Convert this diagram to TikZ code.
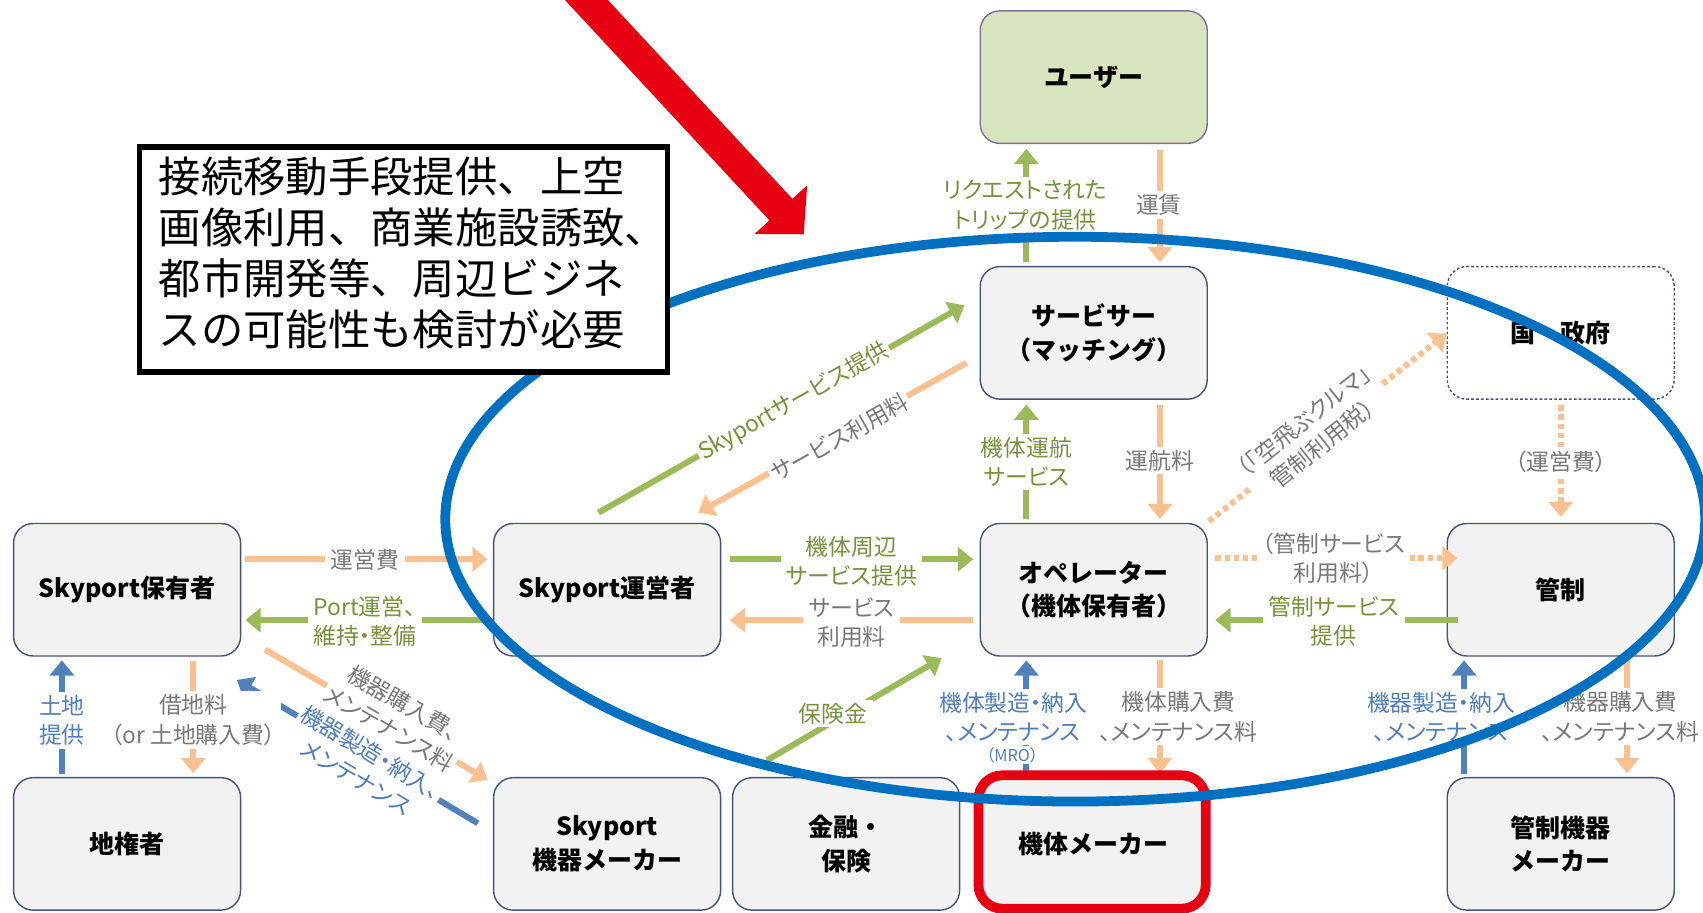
\documentclass[tikz,border=0pt]{standalone}
\usepackage{fontspec}
\setmainfont{Noto Sans CJK JP}
\newfontfamily\jpl{Noto Sans CJK JP}[RawFeature=+palt]
\usetikzlibrary{arrows.meta,calc}
\definecolor{boxc}{RGB}{68,84,120}
\definecolor{boxf}{RGB}{242,242,242}
\definecolor{userf}{RGB}{215,228,189}
\definecolor{userc}{RGB}{128,110,150}
\definecolor{morange}{RGB}{250,192,144}
\definecolor{mgreen}{RGB}{155,187,89}
\definecolor{mblue}{RGB}{79,129,189}
\definecolor{tgray}{RGB}{120,120,120}
\definecolor{tgreen}{RGB}{118,146,60}
\definecolor{tblue}{RGB}{79,125,189}
\definecolor{eblue}{RGB}{0,112,192}
\definecolor{mred}{RGB}{230,0,18}
\newcommand\myNF{\fontsize{23}{31}\selectfont\bfseries}
\newcommand\myLF{\jpl\fontsize{21}{27}\selectfont}
\newcommand\mySF{\jpl\fontsize{15}{17}\selectfont}
\newcommand\myCF{\fontsize{39}{47}\selectfont}
\tikzset{
 box/.style={draw=boxc, fill=boxf, line width=1.3pt, rounded corners=18pt, minimum width=209pt, minimum height=122pt, inner sep=0pt, align=center, font=\myNF, text=black},
 lbl/.style={fill=white, inner xsep=5pt, inner ysep=3pt, align=center, font=\myLF},
 lgray/.style={lbl, text=tgray},
 lgreen/.style={lbl, text=tgreen},
 lblue/.style={lbl, text=tblue},
 conn/.style={line width=5.5pt, -{Triangle[length=14pt,width=22pt]}},
 oarr/.style={conn, draw=morange},
 garr/.style={conn, draw=mgreen},
 barr/.style={conn, draw=mblue},
 odot/.style={oarr, dash pattern=on 5pt off 3.5pt},
 callout/.style={draw=black, fill=white, line width=5pt, minimum width=486pt, minimum height=207pt},
 callouttext/.style={inner sep=0pt, align=left, font=\myCF, text=black, anchor=west},
}
\begin{document}
\begin{tikzpicture}[x=1pt,y=-1pt]
\useasboundingbox (0,0) rectangle (1568,840);
\clip (0,0) rectangle (1568,840);
% boxes
\node[box, fill=userf, draw=userc] (user) at (1007,71) {ユーザー};
\node[box] (svc) at (1007,306.5) {サービサー\\（マッチング）};
\node[box, fill=white, dash pattern=on 2.5pt off 2pt] (gov) at (1437,306.5) {国・政府};
\node[box] (owner) at (117,543) {Skyport保有者};
\node[box] (ops) at (559,543) {Skyport運営者};
\node[box] (opr) at (1007,543) {オペレーター\\（機体保有者）};
\node[box] (ctl) at (1437,543) {管制};
\node[box] (land) at (117,777) {地権者};
\node[box] (eqm) at (559,777) {Skyport\\機器メーカー};
\node[box] (fin) at (779,777) {金融・\\保険};
\node[box] (amk) at (1007,777) {機体メーカー};
\node[box] (cem) at (1437,777) {管制機器\\メーカー};
% connectors
\draw[garr] ($(svc.center)+(-62,-65)$) -- ($(user.center)+(-62,66)$);
\draw[oarr] ($(user.center)+(61,67)$) -- ($(svc.center)+(61,-65)$);
\draw[garr] ($(opr.center)+(-62,-65)$) -- ($(svc.center)+(-62,66)$);
\draw[oarr] ($(svc.center)+(61,66)$) -- ($(opr.center)+(61,-65)$);
\draw[garr] ($(ops.center)+(-8,-71)$) -- ($(svc.center)+(-119,-25.5)$);
\draw[oarr] ($(svc.center)+(-117,27.5)$) -- ($(ops.center)+(84,-71)$);
\draw[oarr] ($(owner.center)+(109,-28)$) -- ($(ops.center)+(-110,-28)$);
\draw[garr] ($(ops.center)+(-112,28)$) -- ($(owner.center)+(109,28)$);
\draw[garr] ($(ops.center)+(113,-28)$) -- ($(opr.center)+(-111,-28)$);
\draw[oarr] ($(opr.center)+(-111,28)$) -- ($(ops.center)+(113,28)$);
\draw[odot] ($(opr.center)+(112,-29)$) -- ($(ctl.center)+(-95,-29)$);
\draw[garr] ($(ctl.center)+(-95,28)$) -- ($(opr.center)+(112,28)$);
\draw[odot] ($(opr.center)+(106,-63)$) -- ($(gov.center)+(-105,0.5)$);
\draw[odot] ($(gov.center)+(0,66.5)$) -- ($(ctl.center)+(0,-67)$);
\draw[barr] ($(land.center)+(-60,-64)$) -- ($(owner.center)+(-60,65)$);
\draw[oarr] ($(owner.center)+(61,66)$) -- ($(land.center)+(61,-65)$);
\draw[oarr] ($(owner.center)+(127,55)$) -- ($(eqm.center)+(-110,-59)$);
\draw[barr] ($(eqm.center)+(-119,-19)$) -- ($(owner.center)+(101,83)$);
\draw[garr] ($(fin.center)+(-73,-77)$) -- ($(opr.center)+(-140,63)$);
\draw[barr] ($(amk.center)+(-62,-64)$) -- ($(opr.center)+(-62,65)$);
\draw[oarr] ($(opr.center)+(61,65)$) -- ($(amk.center)+(61,-65)$);
\draw[barr] ($(cem.center)+(-89,-64)$) -- ($(ctl.center)+(-89,65)$);
\draw[oarr] ($(ctl.center)+(61,65)$) -- ($(cem.center)+(61,-65)$);
% labels
\node[lgreen] (l1) at (944,189) {リクエストされた\\トリップの提供};
\node[lgray] (l2) at (1067,189) {運賃};
\node[lgreen] (l3) at (945,425) {機体運航\\サービス};
\node[lgray] (l4) at (1068,424) {運航料};
\node[lgreen, rotate=29.5, inner sep=2pt] (l5) at (731,370) {Skyportサービス提供};
\node[lgray, rotate=29.2, inner sep=2pt] (l6) at (773,403) {サービス利用料};
\node[lgray] (l7) at (336,515) {運営費};
\node[lgreen] (l8) at (336,572) {Port運営、\\維持・整備};
\node[lgreen] (l9) at (784,517) {機体周辺\\サービス提供};
\node[lgray] (l10) at (784,573) {サービス\\利用料};
\node[lgray] (l11) at (1228,514) {（管制サービス\\利用料）};
\node[lgreen] (l12) at (1228,572) {管制サービス\\提供};
\node[lgray, rotate=38.5, inner sep=2pt] (l13) at (1209,398) {（「空飛ぶクルマ」\\管制利用税）};
\node[lgray] (l14) at (1437,425) {（運営費）};
\node[lblue] (l15) at (57,663) {土地\\提供};
\node[lgray] (l16) at (178,663) {借地料\\（or 土地購入費）};
\node[lgray, rotate=-30.2, inner sep=2pt] (l17) at (365,659) {機器購入費、\\メンテナンス料};
\node[lblue, rotate=-30.7, inner sep=2pt] (l18) at (335,704) {機器製造・納入、\\メンテナンス};
\node[lgreen] (l19) at (767,657) {保険金};
\node[lblue] (l20) at (933,660) {機体製造・納入\\、メンテナンス};
\node[lblue, font=\mySF, inner sep=1pt] (l20b) at (932,695) {（MRO）};
\node[lgray] (l21) at (1085,660) {機体購入費\\、メンテナンス料};
\node[lblue] (l22) at (1327,660) {機器製造・納入\\、メンテナンス};
\node[lgray] (l23) at (1492,660) {機器購入費\\、メンテナンス料};
% red frame, ellipse
\draw[mred, line width=9pt, rounded corners=22pt] ($(amk.north west)+(-1,-1.5)$) rectangle ($(amk.south east)+(-2,-2)$);
\draw[eblue, line width=9pt] (990,478) ellipse [x radius=580, y radius=260];
% red arrow
\fill[mred] (532.0,-29.9) -- (729.6,183.1) -- (743.2,170.6) -- (740,215.7) -- (694.8,215.4) -- (708.4,202.9) -- (510.8,-10.1) -- cycle;
% callout
\node[callout] (note) at (371.5,239) {};
\node[callouttext] (notetext) at (146,233) {接続移動手段提供、上空\\画像利用、商業施設誘致、\\都市開発等、周辺ビジネ\\スの可能性も検討が必要};
\end{tikzpicture}
\end{document}
